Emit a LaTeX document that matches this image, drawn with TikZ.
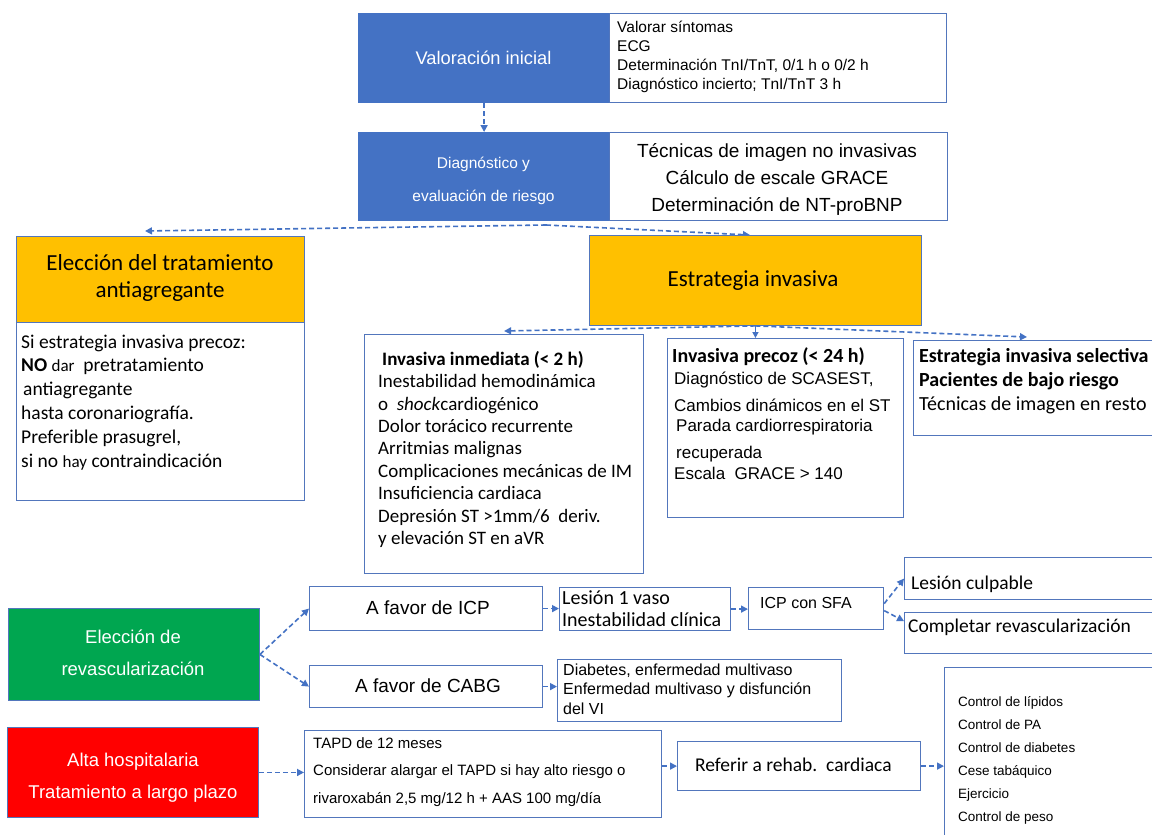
\documentclass[tikz,border=0pt]{standalone}
\usepackage{fontspec}
\setmainfont{Liberation Sans}
\newfontfamily\calfont{Carlito}
\usetikzlibrary{arrows.meta}
\definecolor{mblue}{HTML}{4472C4}
\definecolor{bline}{HTML}{5276BC}
\definecolor{morange}{HTML}{FFC000}
\definecolor{mgreen}{HTML}{00A650}
\definecolor{mred}{HTML}{FF0000}
\newcommand\myfs[1]{\fontsize{#1}{#1}\selectfont}
\begin{document}
\begin{tikzpicture}[x=1pt,y=-1pt,
  box/.style={draw=bline, line width=1.2pt, fill=white, inner sep=0pt, anchor=north west},
  bluebox/.style={box, fill=mblue, draw=mblue},
  orangebox/.style={box, fill=morange, line width=0.9pt},
  greenbox/.style={box, fill=mgreen, line width=0.9pt},
  redbox/.style={box, fill=mred, line width=0.9pt},
  lbl/.style={inner sep=0pt, anchor=base west},
  clbl/.style={inner sep=0pt, anchor=base},
  arr/.style={draw=mblue, line width=1.6pt, dash pattern=on 5pt off 3pt, -{Triangle[length=7pt,width=7pt]}},
  arrsolid/.style={draw=mblue, line width=1.4pt, -{Triangle[length=6pt,width=6pt]}}
]
\clip (0,0) rectangle (1152,835);
\fill[white] (0,0) rectangle (1152,835);

% ---------- top ----------
\node[bluebox, minimum width=251pt, minimum height=89pt] (b1) at (358,13) {};
\node[box, minimum width=337pt, minimum height=89pt] (w1) at (609,13) {};
\node[bluebox, minimum width=251pt, minimum height=88pt] (b2) at (358,132) {};
\node[box, minimum width=338pt, minimum height=88pt] (w2) at (609,132) {};

\node[clbl, text=white, font=\myfs{18.3}] (b1t) at (483.5,64) {Valoración inicial};
\foreach \t [count=\i from 0] in {Valorar síntomas, ECG, {Determinación TnI/TnT, 0/1 h o 0/2 h}, {Diagnóstico incierto; TnI/TnT 3 h}}
  \node[lbl, font=\myfs{15.5}] (w1t\i) at (617, 32+19*\i) {\t};
\node[clbl, text=white, font=\myfs{15.5}] (b2ta) at (483.5,168) {Diagnóstico y};
\node[clbl, text=white, font=\myfs{15.5}] (b2tb) at (483.5,201) {evaluación de riesgo};
\foreach \t [count=\i from 0] in {Técnicas de imagen no invasivas, Cálculo de escale GRACE, Determinación de NT-proBNP}
  \node[clbl, font=\myfs{19}] (w2t\i) at (777, 157+27*\i) {\t};

\draw[arr] (b1.south) -- (b2.north);
\coordinate (sp) at (546,225);
\coordinate (o1in) at (145,231);
\coordinate (o2in) at (750,235);
\draw[arr] (sp) -- (o1in);
\draw[arr] (sp) -- (o2in);

% ---------- second row ----------
\node[orangebox, minimum width=288pt, minimum height=86pt] (o1) at (16,236) {};
\node[box, minimum width=288pt, minimum height=178pt] (w3) at (16,322) {};
\node[clbl, font=\calfont\myfs{23}] (o1ta) at (160,270.5) {Elección del tratamiento};
\node[clbl, font=\calfont\myfs{23}] (o1tb) at (160,297.5) {antiagregante};
\foreach \t [count=\i from 0] in {Si estrategia invasiva precoz:, {\textbf{NO} {\myfs{17}dar}\ \ pretratamiento}, {\hspace{2pt}antiagregante}, hasta coronariografía., {Preferible prasugrel,}, {si no {\myfs{17}hay} contraindicación}}
  \node[lbl, font=\calfont\myfs{19.5}] (w3t\i) at (21, 348+23.8*\i) {\t};

\node[orangebox, minimum width=332pt, minimum height=90pt] (o2) at (589,235) {};
\node[clbl, font=\calfont\myfs{23}] (o2t) at (753,286.5) {Estrategia invasiva};

\node[box, minimum width=279pt, minimum height=239pt] (inm) at (364,334) {};
\node[lbl, font=\calfont\bfseries\myfs{19}] (inmt0) at (382,365.3) {Invasiva inmediata (< 2 h)};
\foreach \t [count=\i from 1] in {Inestabilidad hemodinámica, {o\ \ \textit{shock}cardiogénico}, Dolor torácico recurrente, Arritmias malignas, Complicaciones mecánicas de IM, Insuficiencia cardiaca, {Depresión ST >1mm/6\ \ deriv.}, y elevación ST en aVR}
  \node[lbl, font=\calfont\myfs{19}] (inmt\i) at (378, 365.3+22.4*\i) {\t};

\node[box, minimum width=236pt, minimum height=179pt] (prec) at (667,338) {};
\node[lbl, font=\calfont\bfseries\myfs{20}] (prect0) at (672,362) {Invasiva precoz (< 24 h)};
\node[lbl, font=\myfs{17}] (prect1) at (674,384) {Diagnóstico de SCASEST,};
\node[lbl, font=\myfs{17}] (prect2) at (674,411) {Cambios dinámicos en el ST};
\node[lbl, font=\myfs{17}] (prect3) at (676,431) {Parada cardiorrespiratoria};
\node[lbl, font=\myfs{17}] (prect4) at (676,458) {recuperada};
\node[lbl, font=\myfs{17}] (prect5) at (674,479) {Escala\ \ GRACE > 140};

\node[box, minimum width=260pt, minimum height=95pt] (sel) at (913,340) {};
\node[lbl, font=\calfont\bfseries\myfs{20}] (selt0) at (919,362) {Estrategia invasiva selectiva};
\node[lbl, font=\calfont\bfseries\myfs{20}] (selt1) at (919,386) {Pacientes de bajo riesgo};
\node[lbl, font=\calfont\myfs{20}] (selt2) at (919,410) {Técnicas de imagen en resto};

\coordinate (selin) at (1027,337);
\draw[arr] (o2.south) -- ([yshift=3pt]inm.north);
\draw[arr] (o2.south) -- (selin);
\draw[arrsolid] (o2.south) -- (o2.south |- prec.north);

% ---------- revascularization ----------
\node[greenbox, minimum width=251pt, minimum height=92pt] (grn) at (8,608) {};
\node[clbl, text=white, font=\myfs{18.5}] (grnta) at (133,643) {Elección de};
\node[clbl, text=white, font=\myfs{18.5}] (grntb) at (133,675) {revascularización};

\node[box, minimum width=233pt, minimum height=44pt] (icp) at (309,586) {};
\node[clbl, font=\myfs{19}] (icpt) at (428,614) {A favor de ICP};
\node[box, minimum width=233pt, minimum height=42pt] (cabg) at (309,665) {};
\node[clbl, font=\myfs{19}] (cabgt) at (428,692) {A favor de CABG};

\node[box, minimum width=171pt, minimum height=43pt] (les) at (559,587) {};
\node[lbl, font=\calfont\myfs{20}] (lesta) at (562,604.6) {Lesión 1 vaso};
\node[lbl, font=\calfont\myfs{20}] (lestb) at (562,626.6) {Inestabilidad clínica};

\node[box, minimum width=135pt, minimum height=42pt] (sfa) at (748,587) {};
\node[lbl, font=\myfs{16}] (sfat) at (760,608.5) {ICP con SFA};

\node[box, minimum width=260pt, minimum height=42pt] (culp) at (904,557) {};
\node[lbl, font=\calfont\myfs{19.5}] (culpt) at (911,589.5) {Lesión culpable};
\node[box, minimum width=260pt, minimum height=41pt] (compl) at (904,612) {};
\node[lbl, font=\calfont\myfs{19.5}] (complt) at (908,632.5) {Completar revascularización};

\node[box, minimum width=284pt, minimum height=62pt] (diab) at (557,659) {};
\foreach \t [count=\i from 0] in {{Diabetes, enfermedad multivaso}, Enfermedad multivaso y disfunción, del VI}
  \node[lbl, font=\myfs{16}] (diabt\i) at (563, 675+19.5*\i) {\t};

\draw[arr] (grn.east) -- (icp.west);
\draw[arr] (grn.east) -- (cabg.west);
\draw[arr] (icp.east) -- (icp.east -| les.west);
\draw[arr] (cabg.east) -- (cabg.east -| diab.west);
\draw[arr] (les.east) -- (les.east -| sfa.west);
\draw[arr] ([yshift=5pt]sfa.east) -- (culp.west);
\draw[arr] ([yshift=-2pt]sfa.east) -- ([yshift=12pt]compl.west);

% ---------- discharge ----------
\node[redbox, minimum width=251pt, minimum height=90pt] (red) at (7,727) {};
\node[clbl, text=white, font=\myfs{18.5}] (redta) at (133,766) {Alta hospitalaria};
\node[clbl, text=white, font=\myfs{18.5}] (redtb) at (133,798) {Tratamiento a largo plazo};

\node[box, minimum width=357pt, minimum height=87pt] (tapd) at (304,730) {};
\foreach \t [count=\i from 0] in {TAPD de 12 meses, Considerar alargar el TAPD si hay alto riesgo o, {rivaroxabán 2,5 mg/12 h + AAS 100 mg/día}}
  \node[lbl, font=\myfs{15}] (tapdt\i) at (313, 748+27.5*\i) {\t};

\node[box, minimum width=243pt, minimum height=49pt] (ref) at (677,741) {};
\node[lbl, font=\calfont\myfs{19.5}] (reft) at (695,771.5) {Referir a rehab.\ \ cardiaca};

\node[box, minimum width=220pt, minimum height=190pt] (ctrl) at (944,667) {};
\foreach \t [count=\i from 0] in {Control de lípidos, Control de PA, Control de diabetes, Cese tabáquico, Ejercicio, Control de peso}
  \node[lbl, font=\myfs{13.5}] (ctrlt\i) at (958, 706.5+23*\i) {\t};

\draw[arr] (red.east) -- (red.east -| tapd.west);
\draw[arr] (tapd.east |- ref.west) -- (ref.west);
\draw[arr] (ref.east) -- (ref.east -| ctrl.west);
\end{tikzpicture}
\end{document}
